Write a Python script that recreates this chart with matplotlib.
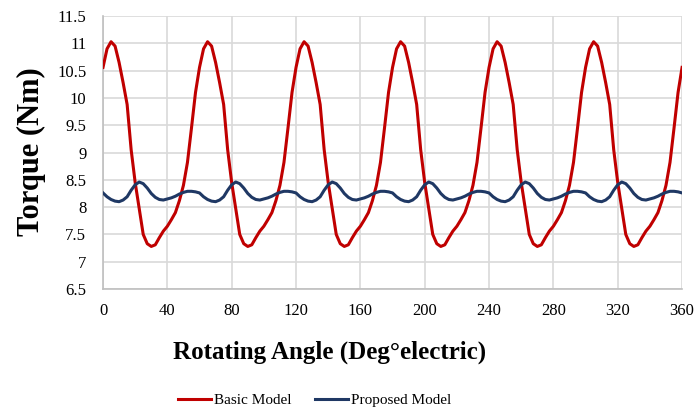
import numpy as np
import matplotlib
matplotlib.use("Agg")
import matplotlib.pyplot as plt

plt.rcParams.update({'font.family': ['Liberation Serif', 'DejaVu Serif'],
                     'font.size': 11})

# rotor angle, electrical degrees (2.5 deg steps)
angle = np.arange(0, 360.1, 2.5)

# torque of the basic model [Nm]
basic = [
    10.56, 10.90, 11.03, 10.95, 10.65, 10.28, 9.88, 9.05, 8.45, 7.98, 7.50, 7.33,
    7.28, 7.31, 7.44, 7.56, 7.65, 7.77, 7.90, 8.12, 8.40, 8.82, 9.45, 10.10,
    10.56, 10.90, 11.03, 10.95, 10.65, 10.28, 9.88, 9.05, 8.45, 7.98, 7.50, 7.33,
    7.28, 7.31, 7.44, 7.56, 7.65, 7.77, 7.90, 8.12, 8.40, 8.82, 9.45, 10.10,
    10.56, 10.90, 11.03, 10.95, 10.65, 10.28, 9.88, 9.05, 8.45, 7.98, 7.50, 7.33,
    7.28, 7.31, 7.44, 7.56, 7.65, 7.77, 7.90, 8.12, 8.40, 8.82, 9.45, 10.10,
    10.56, 10.90, 11.03, 10.95, 10.65, 10.28, 9.88, 9.05, 8.45, 7.98, 7.50, 7.33,
    7.28, 7.31, 7.44, 7.56, 7.65, 7.77, 7.90, 8.12, 8.40, 8.82, 9.45, 10.10,
    10.56, 10.90, 11.03, 10.95, 10.65, 10.28, 9.88, 9.05, 8.45, 7.98, 7.50, 7.33,
    7.28, 7.31, 7.44, 7.56, 7.65, 7.77, 7.90, 8.12, 8.40, 8.82, 9.45, 10.10,
    10.56, 10.90, 11.03, 10.95, 10.65, 10.28, 9.88, 9.05, 8.45, 7.98, 7.50, 7.33,
    7.28, 7.31, 7.44, 7.56, 7.65, 7.77, 7.90, 8.12, 8.40, 8.82, 9.45, 10.10,
    10.56,
]

# torque of the proposed model [Nm]
proposed = [
    8.26, 8.19, 8.14, 8.11, 8.10, 8.13, 8.19, 8.31, 8.41, 8.46, 8.43, 8.35,
    8.25, 8.18, 8.14, 8.13, 8.15, 8.17, 8.20, 8.24, 8.27, 8.29, 8.29, 8.28,
    8.26, 8.19, 8.14, 8.11, 8.10, 8.13, 8.19, 8.31, 8.41, 8.46, 8.43, 8.35,
    8.25, 8.18, 8.14, 8.13, 8.15, 8.17, 8.20, 8.24, 8.27, 8.29, 8.29, 8.28,
    8.26, 8.19, 8.14, 8.11, 8.10, 8.13, 8.19, 8.31, 8.41, 8.46, 8.43, 8.35,
    8.25, 8.18, 8.14, 8.13, 8.15, 8.17, 8.20, 8.24, 8.27, 8.29, 8.29, 8.28,
    8.26, 8.19, 8.14, 8.11, 8.10, 8.13, 8.19, 8.31, 8.41, 8.46, 8.43, 8.35,
    8.25, 8.18, 8.14, 8.13, 8.15, 8.17, 8.20, 8.24, 8.27, 8.29, 8.29, 8.28,
    8.26, 8.19, 8.14, 8.11, 8.10, 8.13, 8.19, 8.31, 8.41, 8.46, 8.43, 8.35,
    8.25, 8.18, 8.14, 8.13, 8.15, 8.17, 8.20, 8.24, 8.27, 8.29, 8.29, 8.28,
    8.26, 8.19, 8.14, 8.11, 8.10, 8.13, 8.19, 8.31, 8.41, 8.46, 8.43, 8.35,
    8.25, 8.18, 8.14, 8.13, 8.15, 8.17, 8.20, 8.24, 8.27, 8.29, 8.29, 8.28,
    8.26,
]

xticks = np.arange(0, 361, 40)
yticks = np.arange(6.5, 11.51, 0.5)
ytick_labels = [f"{v:g}" for v in yticks]

fig = plt.figure(figsize=(6.96, 4.12), dpi=100)
ax = fig.add_axes([0.148, 0.2985, 0.832, 0.6625])

ax.plot(angle, basic, color='#C00000', linewidth=2.2, label='Basic Model',
        solid_joinstyle='round', zorder=3)
ax.plot(angle, proposed, color='#1F3864', linewidth=2.2, label='Proposed Model',
        solid_joinstyle='round', zorder=3)

ax.set_xlim(0, 360)
ax.set_ylim(6.5, 11.5)
ax.set_xticks(xticks)
ax.set_yticks(yticks)
ax.set_yticklabels(ytick_labels)
ax.tick_params(length=0, labelsize=12)
ax.tick_params(axis='x', pad=10)
ax.tick_params(axis='y', pad=12)
ax.grid(True, color='#D9D9D9', linewidth=1.2)
ax.set_axisbelow(True)
for side in ['top', 'right']:
    ax.spines[side].set_visible(False)
for side in ['left', 'bottom']:
    ax.spines[side].set_color('#BFBFBF')
    ax.spines[side].set_linewidth(1.2)

ax.set_xlabel('Rotating Angle (Deg°electric)', fontsize=18, fontweight='bold')
ax.xaxis.set_label_coords(0.392, -0.188)
ax.set_ylabel('Torque (Nm)', fontsize=22, fontweight='bold')
ax.yaxis.set_label_coords(-0.099, 0.505)

fig.legend(loc='center', bbox_to_anchor=(0.452, 0.029), ncol=2,
           frameon=False, fontsize=11, handlelength=2.2, handletextpad=0.2,
           columnspacing=1.5, borderpad=0.2)

fig.savefig('out.png', dpi=100)
